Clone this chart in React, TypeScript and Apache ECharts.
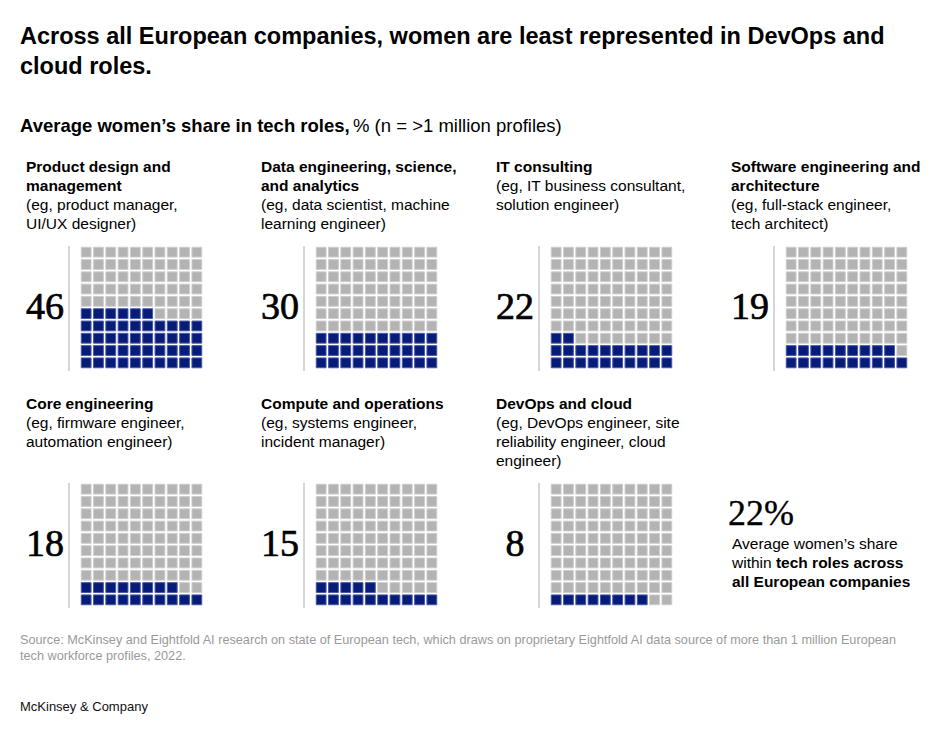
import React, { useEffect, useRef } from 'react';
import * as echarts from 'echarts';

const titleLines = [
  'Across all European companies, women are least represented in DevOps and',
  'cloud roles.',
];
const subtitleBold = 'Average women\u2019s share in tech roles,';
const subtitleRegular = '% (n = >1 million profiles)';

const categoryLines: string[][] = [
  ['Product design and', 'management'],
  ['Data engineering, science,', 'and analytics'],
  ['IT consulting'],
  ['Software engineering and', 'architecture'],
  ['Core engineering'],
  ['Compute and operations'],
  ['DevOps and cloud'],
];
const exampleLines: string[][] = [
  ['(eg, product manager,', 'UI/UX designer)'],
  ['(eg, data scientist, machine', 'learning engineer)'],
  ['(eg, IT business consultant,', 'solution engineer)'],
  ['(eg, full-stack engineer,', 'tech architect)'],
  ['(eg, firmware engineer,', 'automation engineer)'],
  ['(eg, systems engineer,', 'incident manager)'],
  ['(eg, DevOps engineer, site', 'reliability engineer, cloud', 'engineer)'],
];
const values = [46, 30, 22, 19, 18, 15, 8];
const overallShare = 22;
const overallLines = ['Average women\u2019s share', 'within {b|tech roles across}', '{b|all European companies}'];
const sourceLines = [
  'Source: McKinsey and Eightfold AI research on state of European tech, which draws on proprietary Eightfold AI data source of more than 1 million European',
  'tech workforce profiles, 2022.',
];
const brand = 'McKinsey & Company';

const SANS = '"Liberation Sans", Arial, sans-serif';
const SERIF = '"Liberation Serif", "Times New Roman", serif';
const NAVY = '#061c78';
const GRAY = '#b3b3b3';

export default function App() {
  const ref = useRef<HTMLDivElement>(null);
  useEffect(() => {
    const chart = echarts.init(ref.current!, null, { renderer: 'svg' });
    const grids: any[] = [];
    const xAxes: any[] = [];
    const yAxes: any[] = [];
    const series: any[] = [];
    const graphics: any[] = [];

    titleLines.forEach((t, k) => {
      graphics.push({
        type: 'text', x: 20, y: 36 + k * 30,
        style: { text: t, font: `bold 23.5px ${SANS}`, fill: '#000', verticalAlign: 'middle' },
      });
    });
    graphics.push({
      type: 'text', x: 20, y: 125,
      style: {
        text: `{b|${subtitleBold}} {r|${subtitleRegular}}`,
        verticalAlign: 'middle',
        rich: {
          b: { fontFamily: SANS, fontSize: 18.5, fontWeight: 'bold', fill: '#000' },
          r: { fontFamily: SANS, fontSize: 18.5, fill: '#000' },
        },
      },
    });

    values.forEach((v, i) => {
      const col = i % 4;
      const row = Math.floor(i / 4);
      const px = 26 + 235 * col;
      const gridTop = row === 0 ? 246 : 483;
      const headerTop = row === 0 ? 166 : 403;
      const gridLeft = 80 + 235 * col;
      const size = 123;

      grids.push({ left: gridLeft, top: gridTop, width: size, height: size });
      xAxes.push({ type: 'value', gridIndex: i, min: 0, max: 10, show: false });
      yAxes.push({ type: 'value', gridIndex: i, min: 0, max: 10, show: false });
      const data: number[][] = [];
      for (let r = 0; r < 10; r++) {
        for (let c = 0; c < 10; c++) {
          data.push([c, r, r * 10 + c < v ? 1 : 0]);
        }
      }
      series.push({
        type: 'custom', xAxisIndex: i, yAxisIndex: i, data,
        renderItem: (params: any, api: any) => {
          const c = api.value(0);
          const r = api.value(1);
          const f = api.value(2);
          const tl = api.coord([c, r + 1]);
          const sz = api.size([1, 1]);
          const inset = 1.25;
          return {
            type: 'rect',
            shape: { x: tl[0] + inset, y: tl[1] + inset, width: sz[0] - inset * 2, height: sz[1] - inset * 2 },
            style: { fill: f ? NAVY : GRAY, stroke: f ? '#4658a3' : '#cdcdcd', lineWidth: 1 },
          };
        },
      });

      const lines = [
        ...categoryLines[i].map((t) => ({ t, b: true })),
        ...exampleLines[i].map((t) => ({ t, b: false })),
      ];
      lines.forEach((ln, k) => {
        graphics.push({
          type: 'text', x: px, y: headerTop + k * 19.3,
          style: {
            text: ln.t, font: `${ln.b ? 'bold ' : ''}15.5px ${SANS}`, fill: '#000',
            verticalAlign: 'middle', align: 'left',
          },
        });
      });
      graphics.push({
        type: 'line',
        shape: { x1: 69 + 235 * col, y1: gridTop, x2: 69 + 235 * col, y2: gridTop + size + 2 },
        style: { stroke: '#c8c8c8', lineWidth: 1.5 },
      });
      graphics.push({
        type: 'text', x: 45 + 235 * col, y: gridTop + size / 2 - 2,
        style: {
          text: String(v), fontFamily: SERIF, fontSize: 38, fontWeight: 'normal', fill: '#000',
          stroke: '#000', lineWidth: 0.7,
          align: 'center', verticalAlign: 'middle',
        },
      });
    });

    graphics.push({
      type: 'text', x: 728, y: 513,
      style: {
        text: `${overallShare}%`, fontFamily: SERIF, fontSize: 36, fontWeight: 'normal', fill: '#000',
        stroke: '#000', lineWidth: 0.3, verticalAlign: 'middle',
      },
    });
    overallLines.forEach((t, k) => {
      graphics.push({
        type: 'text', x: 732, y: 543 + k * 19.3,
        style: {
          text: t, fontFamily: SANS, fontSize: 15.5, fill: '#000', verticalAlign: 'middle',
          rich: { b: { fontFamily: SANS, fontSize: 15.5, fontWeight: 'bold', fill: '#000' } },
        },
      });
    });
    sourceLines.forEach((t, k) => {
      graphics.push({
        type: 'text', x: 20, y: 640 + k * 16,
        style: { text: t, font: `12.7px ${SANS}`, fill: '#9a9a9a', verticalAlign: 'middle' },
      });
    });
    graphics.push({
      type: 'text', x: 20, y: 706,
      style: { text: brand, font: `13px ${SANS}`, fill: '#111', verticalAlign: 'middle' },
    });

    chart.setOption({
      animation: false,
      backgroundColor: '#fff',
      grid: grids,
      xAxis: xAxes,
      yAxis: yAxes,
      series,
      graphic: graphics,
    });
    return () => chart.dispose();
  }, []);
  return (
    <div
      ref={ref}
      style={{ position: 'absolute', left: 0, top: 0, width: 938, height: 734, background: '#fff' }}
    />
  );
}
